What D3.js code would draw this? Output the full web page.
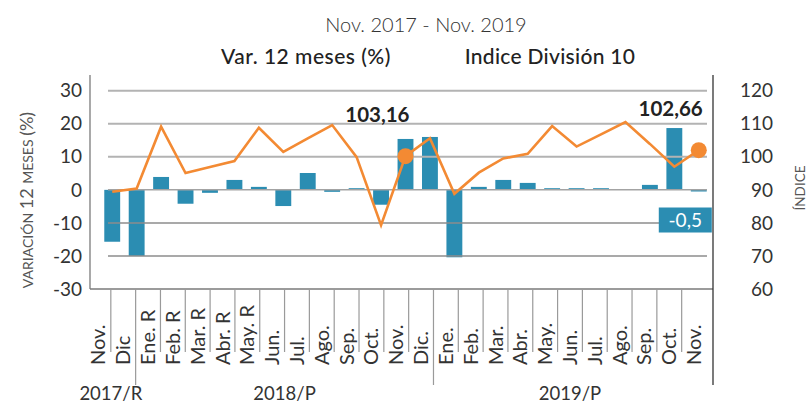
<!DOCTYPE html>
<html>
<head>
<meta charset="utf-8">
<script src="https://cdn.jsdelivr.net/npm/d3@7"></script>
<style>
  html, body { margin: 0; padding: 0; background: #fff; }
  svg { display: block; font-family: Lato, "Open Sans", sans-serif; }
</style>
</head>
<body>
<svg id="chart" width="807" height="407"></svg>
<script>
// ---- data ----
const categories = ["Nov.", "Dic", "Ene. R", "Feb. R", "Mar. R", "Abr. R", "May. R", "Jun.", "Jul.", "Ago.", "Sep.", "Oct.", "Nov.", "Dic.",
                    "Ene.", "Feb.", "Mar.", "Abr.", "May.", "Jun.", "Jul.", "Ago.", "Sep.", "Oct.", "Nov."];
const yearOfCategory = ["2017/R", "2017/R",
  "2018/P", "2018/P", "2018/P", "2018/P", "2018/P", "2018/P", "2018/P", "2018/P", "2018/P", "2018/P", "2018/P", "2018/P",
  "2019/P", "2019/P", "2019/P", "2019/P", "2019/P", "2019/P", "2019/P", "2019/P", "2019/P", "2019/P", "2019/P"];
const years = ["2017/R", "2018/P", "2019/P"];
const varValues = [-15.7, -20.0, 3.9, -4.2, -0.9, 3.0, 0.9, -4.9, 5.1, -0.6, 0.5, -4.5, 15.4, 16.0,
                   -20.4, 0.9, 3.0, 2.1, 0.5, 0.5, 0.5, 0.2, 1.5, 18.7, -0.5];
const indexValues = [89.4, 90.4, 109.1, 95.1, 96.9, 98.7, 108.8, 101.5, 105.6, 109.6, 99.9, 79.3, 100.2, 105.6,
                     88.8, 95.2, 99.5, 100.9, 109.3, 103.1, 106.8, 110.5, 103.9, 97.0, 102.0];
const markedPoints = [12, 24];
const markedLabels = ["103,16", "102,66"];
const lastBarLabel = "-0,5";
const leftTicks = [30, 20, 10, 0, -10, -20, -30];
const rightTicks = [120, 110, 100, 90, 80, 70, 60];
const titleText = "Nov. 2017 - Nov. 2019";
const subtitleLeft = "Var. 12 meses (%)";
const subtitleRight = "Indice División 10";

// ---- colours ----
const barColor = "#2b8db2";
const lineColor = "#f38a33";
const textColor = "#333333";
const softText = "#555555";

const svg = d3.select("#chart");

// ---- scales ----
const xBar = d3.scaleBand().domain(d3.range(categories.length)).range([100, 711]).paddingInner(0.35).paddingOuter(0.175);
const xLab = d3.scaleBand().domain(d3.range(categories.length)).range([86, 706.5]).padding(0);
const yL = d3.scaleLinear().domain([-30, 30]).range([289, 90.7]);
const yR = d3.scaleLinear().domain([60, 120]).range([289, 90.7]);
const leftX = 90, rightX = 713, axisTop = 75, sepShort = 352, sepLong = 385;

// ---- titles ----
svg.append("text").attr("x", 426).attr("y", 32).attr("text-anchor", "middle")
  .attr("font-size", 20).attr("font-weight", 300).attr("fill", textColor).text(titleText);
svg.append("text").attr("x", 306).attr("y", 64).attr("text-anchor", "middle")
  .attr("font-size", 21).attr("letter-spacing", 0.5).attr("font-weight", 500).attr("fill", "#222").text(subtitleLeft);
svg.append("text").attr("x", 550).attr("y", 64).attr("text-anchor", "middle")
  .attr("font-size", 21).attr("letter-spacing", 0.3).attr("font-weight", 500).attr("fill", "#222").text(subtitleRight);

// ---- bars ----
svg.append("g").selectAll("rect").data(varValues).join("rect")
  .attr("x", (d, i) => xBar(i))
  .attr("width", xBar.bandwidth())
  .attr("y", d => yL(Math.max(0, d)))
  .attr("height", d => Math.abs(yL(d) - yL(0)))
  .attr("fill", barColor);

// ---- gridlines (drawn over bars) ----
svg.append("g").selectAll("line").data(leftTicks.filter(t => t > -30)).join("line")
  .attr("x1", 108).attr("x2", 707)
  .attr("y1", d => yL(d)).attr("y2", d => yL(d))
  .attr("stroke", d => d > 0 ? "#b3b3b3" : (d === 0 ? "#a3a3a3" : "#8c8c8c"))
  .attr("stroke-width", d => d > 0 ? 2 : 1.5);

// ---- axes lines ----
svg.append("line").attr("x1", leftX).attr("x2", leftX).attr("y1", axisTop).attr("y2", yL(-30))
  .attr("stroke", "#7a7a7a").attr("stroke-width", 1.3);
svg.append("line").attr("x1", leftX).attr("x2", rightX).attr("y1", yL(-30)).attr("y2", yL(-30))
  .attr("stroke", "#7a7a7a").attr("stroke-width", 1.3);
svg.append("line").attr("x1", rightX).attr("x2", rightX).attr("y1", axisTop).attr("y2", sepLong)
  .attr("stroke", "#333").attr("stroke-width", 1.3);

// ---- category separators ----
const sepIdx = d3.range(1, categories.length);
svg.append("g").selectAll("line").data(sepIdx).join("line")
  .attr("x1", i => xLab(i)).attr("x2", i => xLab(i))
  .attr("y1", yL(-30))
  .attr("y2", i => yearOfCategory[i] !== yearOfCategory[i - 1] ? sepLong : sepShort)
  .attr("stroke", "#9a9a9a").attr("stroke-width", 1.2);

// ---- category labels ----
svg.append("g").selectAll("text").data(categories).join("text")
  .attr("transform", (d, i) => `translate(${xLab(i) + xLab.bandwidth() / 2 + 7},365) rotate(-90)`)
  .attr("text-anchor", "start")
  .attr("font-size", 20).attr("fill", textColor)
  .text(d => d);

// ---- year labels ----
svg.append("g").selectAll("text").data(years).join("text")
  .attr("x", y => {
    const idx = d3.range(categories.length).filter(i => yearOfCategory[i] === y);
    return (xLab(idx[0]) + xLab(idx[idx.length - 1]) + xLab.bandwidth()) / 2;
  })
  .attr("y", 400).attr("text-anchor", "middle")
  .attr("font-size", 18.5).attr("fill", textColor).text(y => y);

// ---- left ticks ----
svg.append("g").selectAll("text").data(leftTicks).join("text")
  .attr("x", 82).attr("y", d => yL(d)).attr("dy", "0.35em")
  .attr("text-anchor", "end").attr("font-size", 19).attr("fill", textColor)
  .text(d => d);

// ---- right ticks ----
svg.append("g").selectAll("text").data(rightTicks).join("text")
  .attr("x", 773).attr("y", d => yR(d)).attr("dy", "0.35em")
  .attr("text-anchor", "end").attr("font-size", 19).attr("fill", textColor)
  .text(d => d);

// ---- axis titles ----
const lt = svg.append("text").attr("transform", "translate(33,200) rotate(-90)")
  .attr("text-anchor", "middle").attr("fill", softText);
lt.append("tspan").attr("font-size", 14).text("VARIACIÓN ");
lt.append("tspan").attr("font-size", 18).text("12 ");
lt.append("tspan").attr("font-size", 14).text("MESES ");
lt.append("tspan").attr("font-size", 18).text("(%)");

svg.append("text").attr("transform", "translate(805,188) rotate(-90)")
  .attr("text-anchor", "middle").attr("font-size", 13.5).attr("fill", softText).text("ÍNDICE");

// ---- index line ----
const line = d3.line().x((d, i) => xBar(i) + xBar.bandwidth() / 2).y(d => yR(d));
svg.append("path").datum(indexValues).attr("d", line)
  .attr("fill", "none").attr("stroke", lineColor).attr("stroke-width", 2.6).attr("stroke-linejoin", "miter");

// ---- markers & labels ----
svg.append("g").selectAll("circle").data(markedPoints).join("circle")
  .attr("cx", i => xBar(i) + xBar.bandwidth() / 2).attr("cy", i => yR(indexValues[i]))
  .attr("r", 8).attr("fill", lineColor);
svg.append("g").selectAll("text").data(markedPoints).join("text")
  .attr("x", i => xBar(i) + xBar.bandwidth() / 2 + 4)
  .attr("y", i => yR(indexValues[i]) - 34)
  .attr("text-anchor", "end").attr("font-size", 20.5).attr("font-weight", 700).attr("fill", "#222")
  .text((i, k) => markedLabels[k]);

// ---- last bar value box ----
const lastI = varValues.length - 1;
const lc = xBar(lastI) + xBar.bandwidth() / 2;
const ly = yL(varValues[lastI]);
svg.append("rect").attr("x", lc - 40).attr("y", ly + 16).attr("width", 53).attr("height", 25).attr("fill", barColor);
svg.append("text").attr("x", lc - 13.5).attr("y", ly + 28.5).attr("dy", "0.35em")
  .attr("text-anchor", "middle").attr("font-size", 19).attr("fill", "#fff").text(lastBarLabel);
</script>
</body>
</html>
